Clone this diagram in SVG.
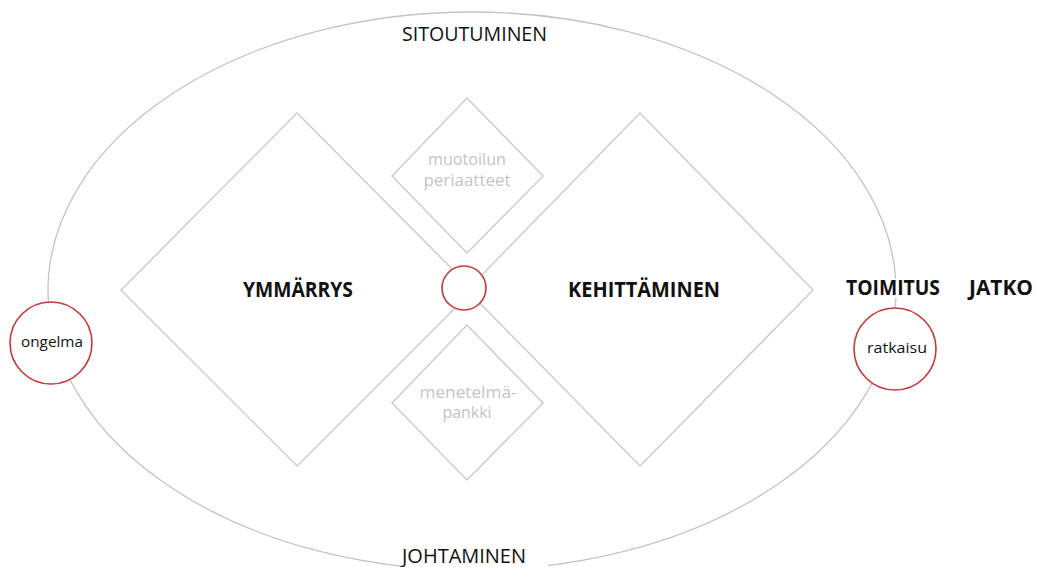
<svg xmlns="http://www.w3.org/2000/svg" width="1038" height="567" viewBox="0 0 1038 567">
<style>
.ell{fill:none;stroke:#c4c4c4;stroke-width:1.3}
.dia{fill:none;stroke:#cdcdcd;stroke-width:1.5}
.red{fill:#fff;stroke:#c8383a;stroke-width:1.6}
.t{font-family:"Open Sans","DejaVu Sans",sans-serif;fill:#111}
.big{font-size:20px}
.bold{font-size:22px;font-weight:bold}
.sm{font-size:15px}
.gray{font-family:"Open Sans","DejaVu Sans",sans-serif;font-size:16px;fill:#c4c4c4;text-anchor:middle}
</style>
<rect width="1038" height="567" fill="#fff"/>
<g id="connectors">
<ellipse class="ell" cx="472" cy="291" rx="424" ry="279"/>
</g>
<g id="ymmarrys">
<polygon class="dia" points="121,290 297,113 473,290 297,466"/>
<text class="t bold" x="243" y="297" textLength="110" lengthAdjust="spacingAndGlyphs">YMMÄRRYS</text>
</g>
<g id="kehittaminen">
<polygon class="dia" points="467,290 640,113 813,290 640,466"/>
<text class="t bold" x="568" y="297" textLength="152" lengthAdjust="spacingAndGlyphs">KEHITTÄMINEN</text>
</g>
<g id="muotoilun">
<polygon class="dia" points="467,98 543,176 467,253 392,176"/>
<text class="gray" x="467" y="165" textLength="78" lengthAdjust="spacingAndGlyphs">muotoilun</text>
<text class="gray" x="467" y="186" textLength="87" lengthAdjust="spacingAndGlyphs">periaatteet</text>
</g>
<g id="menetelmapankki">
<polygon class="dia" points="467,325 543,403 467,480 392,403"/>
<text class="gray" x="468" y="398" textLength="97" lengthAdjust="spacingAndGlyphs">menetelmä-</text>
<text class="gray" x="467" y="418" textLength="49" lengthAdjust="spacingAndGlyphs">pankki</text>
</g>
<g id="center">
<circle class="red" cx="464" cy="288" r="22"/>
</g>
<g id="ongelma">
<circle class="red" cx="51" cy="343" r="41"/>
<text class="t sm" x="21" y="347" textLength="62" lengthAdjust="spacingAndGlyphs">ongelma</text>
</g>
<g id="ratkaisu">
<circle class="red" cx="895" cy="349" r="41"/>
<text class="t sm" x="867" y="353" textLength="60" lengthAdjust="spacingAndGlyphs">ratkaisu</text>
</g>
<g id="sitoutuminen">
<text class="t big" x="402" y="41" textLength="145" lengthAdjust="spacingAndGlyphs">SITOUTUMINEN</text>
</g>
<g id="johtaminen">
<rect x="400" y="544" width="148" height="23" fill="#fff"/>
<text class="t big" x="402" y="563" textLength="124" lengthAdjust="spacingAndGlyphs">JOHTAMINEN</text>
</g>
<g id="toimitus">
<rect x="843" y="279" width="98" height="19" fill="#fff"/>
<text class="t bold" x="846" y="295" textLength="94" lengthAdjust="spacingAndGlyphs">TOIMITUS</text>
</g>
<g id="jatko">
<text class="t bold" x="969" y="295" textLength="64" lengthAdjust="spacingAndGlyphs">JATKO</text>
</g>
</svg>
